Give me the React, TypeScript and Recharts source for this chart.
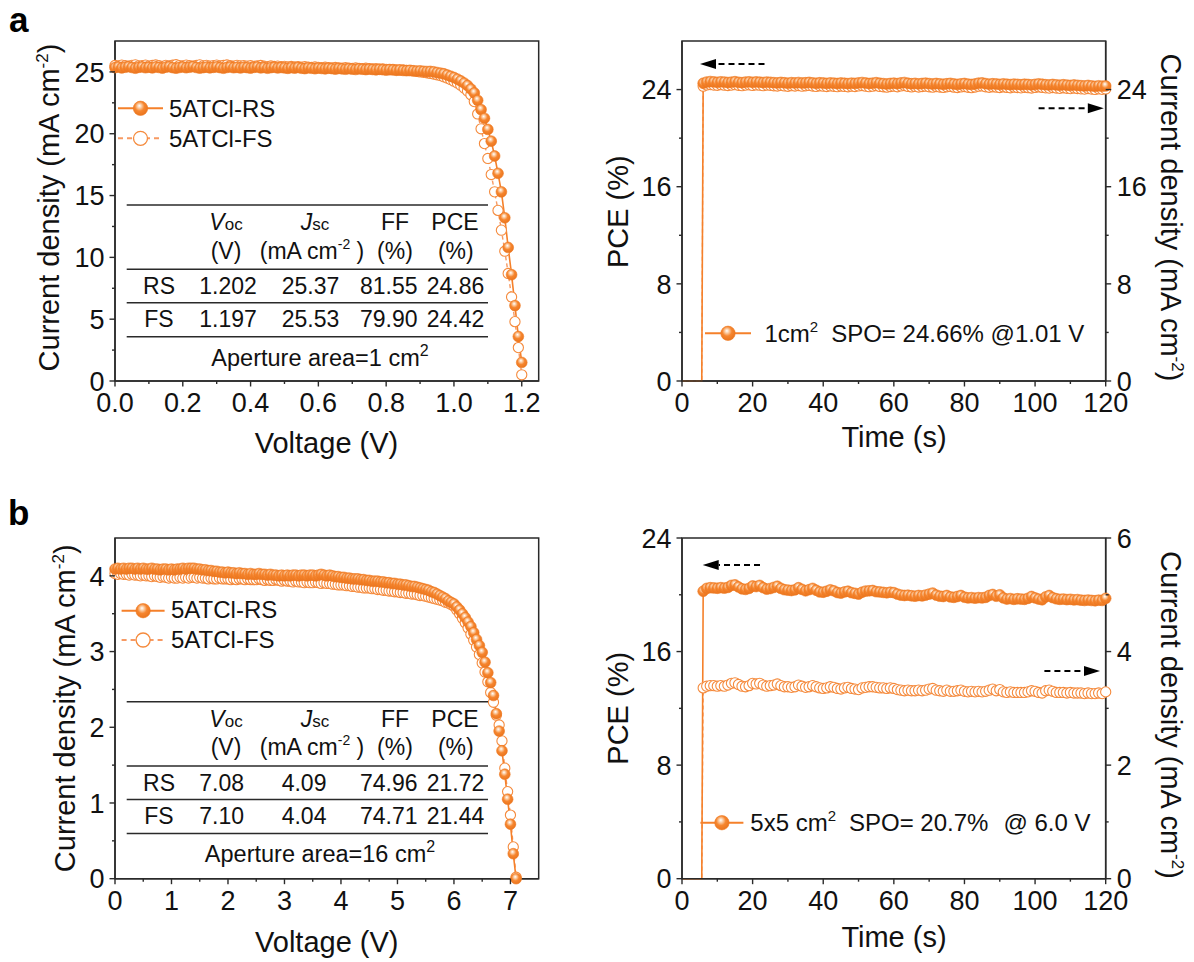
import React from 'react';
import { ComposedChart, Line, XAxis, YAxis, ReferenceArea } from 'recharts';

const FONT = '"Liberation Sans", Arial, Helvetica, sans-serif';
const ORANGE = '#F5802A';
const ORANGE_OPEN = '#F58A3C';
const ORANGE_DASH = '#F79A63';
const AXIS = '#2a2a2a';
const INK = '#111111';

// ---------- Panel a (1 cm2) : J-V ----------
const JV_A_VOLTAGE = [
  0, 0.01, 0.02, 0.03, 0.04, 0.05, 0.06, 0.07, 0.08, 0.09,
  0.1, 0.11, 0.12, 0.13, 0.14, 0.15, 0.16, 0.17, 0.18, 0.19,
  0.2, 0.21, 0.22, 0.23, 0.24, 0.25, 0.26, 0.27, 0.28, 0.29,
  0.3, 0.31, 0.32, 0.33, 0.34, 0.35, 0.36, 0.37, 0.38, 0.39,
  0.4, 0.41, 0.42, 0.43, 0.44, 0.45, 0.46, 0.47, 0.48, 0.49,
  0.5, 0.51, 0.52, 0.53, 0.54, 0.55, 0.56, 0.57, 0.58, 0.59,
  0.6, 0.61, 0.62, 0.63, 0.64, 0.65, 0.66, 0.67, 0.68, 0.69,
  0.7, 0.71, 0.72, 0.73, 0.74, 0.75, 0.76, 0.77, 0.78, 0.79,
  0.8, 0.81, 0.82, 0.83, 0.84, 0.85, 0.86, 0.87, 0.88, 0.89,
  0.9, 0.91, 0.92, 0.93, 0.94, 0.95, 0.96, 0.97, 0.98, 0.99,
  1, 1.01, 1.02, 1.03, 1.04, 1.05, 1.06, 1.07, 1.08, 1.09,
  1.1, 1.11, 1.12, 1.13, 1.14, 1.15, 1.16, 1.17, 1.18, 1.19,
  1.2,
];
const JV_A_RS = [
  25.35, 25.40, 25.32, 25.38, 25.42, 25.36, 25.30, 25.37, 25.41, 25.34,
  25.38, 25.33, 25.40, 25.36, 25.31, 25.39, 25.42, 25.35, 25.30, 25.36,
  25.40, 25.34, 25.38, 25.43, 25.36, 25.31, 25.35, 25.39, 25.33, 25.37,
  25.41, 25.35, 25.30, 25.36, 25.40, 25.34, 25.37, 25.32, 25.38, 25.35,
  25.31, 25.37, 25.40, 25.33, 25.36, 25.30, 25.35, 25.38, 25.32, 25.36,
  25.33, 25.29, 25.35, 25.31, 25.36, 25.30, 25.27, 25.33, 25.30, 25.26,
  25.31, 25.28, 25.25, 25.30, 25.27, 25.23, 25.28, 25.25, 25.22, 25.26,
  25.23, 25.20, 25.25, 25.22, 25.19, 25.23, 25.20, 25.17, 25.21, 25.18,
  25.15, 25.19, 25.16, 25.13, 25.16, 25.12, 25.10, 25.13, 25.09, 25.07,
  25.08, 25.05, 25.03, 25.04, 25.01, 24.95, 24.90, 24.85, 24.75, 24.65,
  24.55, 24.42, 24.28, 24.10, 23.90, 23.62, 23.30, 22.70, 21.95, 21.25,
  20.35, 19.40, 18.20, 16.80, 15.30, 13.20, 10.80, 8.60, 6.10, 3.60,
  1.50,
];
const JV_A_FS = [
  25.52, 25.48, 25.55, 25.50, 25.46, 25.53, 25.57, 25.49, 25.51, 25.55,
  25.47, 25.52, 25.56, 25.50, 25.45, 25.53, 25.49, 25.54, 25.58, 25.51,
  25.48, 25.55, 25.50, 25.46, 25.52, 25.57, 25.49, 25.53, 25.47, 25.51,
  25.55, 25.48, 25.52, 25.56, 25.50, 25.46, 25.53, 25.49, 25.51, 25.47,
  25.50, 25.45, 25.49, 25.52, 25.46, 25.43, 25.48, 25.44, 25.47, 25.42,
  25.45, 25.41, 25.44, 25.40, 25.43, 25.38, 25.42, 25.39, 25.36, 25.40,
  25.37, 25.34, 25.38, 25.35, 25.32, 25.36, 25.33, 25.30, 25.34, 25.31,
  25.28, 25.32, 25.29, 25.26, 25.30, 25.27, 25.24, 25.27, 25.23, 25.25,
  25.21, 25.18, 25.21, 25.17, 25.15, 25.17, 25.13, 25.10, 25.08, 25.05,
  25.00, 24.97, 24.93, 24.88, 24.83, 24.77, 24.70, 24.60, 24.50, 24.38,
  24.25, 24.10, 23.92, 23.70, 23.45, 23.15, 22.60, 21.60, 20.40, 19.20,
  18.00, 16.70, 15.30, 13.80, 12.20, 10.50, 8.70, 6.80, 4.80, 2.70,
  0.50,
];

// ---------- Panel b (16 cm2 module) : J-V ----------
const JV_B_VOLTAGE = [
  0, 0.05, 0.1, 0.15, 0.2, 0.25, 0.3, 0.35, 0.4, 0.45,
  0.5, 0.55, 0.6, 0.65, 0.7, 0.75, 0.8, 0.85, 0.9, 0.95,
  1, 1.05, 1.1, 1.15, 1.2, 1.25, 1.3, 1.35, 1.4, 1.45,
  1.5, 1.55, 1.6, 1.65, 1.7, 1.75, 1.8, 1.85, 1.9, 1.95,
  2, 2.05, 2.1, 2.15, 2.2, 2.25, 2.3, 2.35, 2.4, 2.45,
  2.5, 2.55, 2.6, 2.65, 2.7, 2.75, 2.8, 2.85, 2.9, 2.95,
  3, 3.05, 3.1, 3.15, 3.2, 3.25, 3.3, 3.35, 3.4, 3.45,
  3.5, 3.55, 3.6, 3.65, 3.7, 3.75, 3.8, 3.85, 3.9, 3.95,
  4, 4.05, 4.1, 4.15, 4.2, 4.25, 4.3, 4.35, 4.4, 4.45,
  4.5, 4.55, 4.6, 4.65, 4.7, 4.75, 4.8, 4.85, 4.9, 4.95,
  5, 5.05, 5.1, 5.15, 5.2, 5.25, 5.3, 5.35, 5.4, 5.45,
  5.5, 5.55, 5.6, 5.65, 5.7, 5.75, 5.8, 5.85, 5.9, 5.95,
  6, 6.05, 6.1, 6.15, 6.2, 6.25, 6.3, 6.35, 6.4, 6.45,
  6.5, 6.55, 6.6, 6.65, 6.7, 6.75, 6.8, 6.85, 6.9, 6.95,
  7, 7.05, 7.1,
];
const JV_B_RS = [
  4.09, 4.10, 4.09, 4.10, 4.09, 4.10, 4.10, 4.09, 4.10, 4.09,
  4.10, 4.09, 4.09, 4.10, 4.09, 4.09, 4.08, 4.09, 4.09, 4.08,
  4.09, 4.08, 4.09, 4.09, 4.10, 4.09, 4.10, 4.10, 4.10, 4.09,
  4.09, 4.08, 4.08, 4.07, 4.07, 4.06, 4.06, 4.05, 4.05, 4.04,
  4.05, 4.04, 4.04, 4.03, 4.04, 4.03, 4.03, 4.02, 4.03, 4.02,
  4.02, 4.03, 4.02, 4.02, 4.01, 4.02, 4.01, 4.01, 4.00, 4.01,
  4.00, 4.01, 4.00, 4.01, 4.01, 4.00, 4.01, 4.01, 4.00, 4.01,
  4.01, 4.00, 4.01, 4.02, 4.01, 4.00, 4.01, 4.00, 3.99, 3.99,
  3.98, 3.98, 3.97, 3.97, 3.96, 3.96, 3.96, 3.95, 3.95, 3.94,
  3.94, 3.93, 3.93, 3.93, 3.92, 3.92, 3.91, 3.91, 3.90, 3.90,
  3.89, 3.89, 3.88, 3.88, 3.87, 3.86, 3.86, 3.85, 3.84, 3.83,
  3.82, 3.81, 3.79, 3.78, 3.76, 3.74, 3.72, 3.70, 3.67, 3.65,
  3.63, 3.59, 3.55, 3.50, 3.45, 3.39, 3.33, 3.25, 3.16, 3.08,
  2.99, 2.86, 2.72, 2.59, 2.42, 2.18, 1.95, 1.69, 1.38, 1.05,
  0.72, 0.33, 0.00,
];
const JV_B_FS = [
  4.03, 4.02, 4.03, 4.02, 4.02, 4.01, 4.02, 4.01, 4.01, 4.00,
  4.01, 4.00, 4.00, 3.99, 4.00, 3.99, 3.98, 3.99, 3.98, 3.97,
  3.98, 3.97, 3.97, 3.98, 3.97, 3.98, 3.97, 3.98, 3.98, 3.97,
  3.98, 3.97, 3.97, 3.96, 3.97, 3.96, 3.96, 3.97, 3.96, 3.96,
  3.96, 3.95, 3.96, 3.95, 3.96, 3.96, 3.95, 3.96, 3.95, 3.95,
  3.95, 3.96, 3.95, 3.94, 3.95, 3.94, 3.94, 3.95, 3.94, 3.93,
  3.94, 3.93, 3.93, 3.92, 3.93, 3.92, 3.92, 3.91, 3.92, 3.91,
  3.91, 3.92, 3.91, 3.90, 3.91, 3.90, 3.90, 3.89, 3.89, 3.88,
  3.88, 3.88, 3.87, 3.87, 3.86, 3.86, 3.85, 3.85, 3.84, 3.84,
  3.84, 3.83, 3.83, 3.82, 3.82, 3.81, 3.81, 3.80, 3.80, 3.79,
  3.79, 3.78, 3.78, 3.77, 3.77, 3.76, 3.76, 3.75, 3.74, 3.74,
  3.73, 3.72, 3.71, 3.70, 3.69, 3.68, 3.67, 3.65, 3.64, 3.62,
  3.60, 3.55, 3.50, 3.44, 3.38, 3.31, 3.23, 3.15, 3.06, 2.96,
  2.85, 2.73, 2.60, 2.46, 2.33, 2.16, 2.03, 1.82, 1.46, 1.15,
  0.84, 0.42, 0.02,
];

// ---------- Stabilised power output (time axis shared) ----------
const SPO_TIME = [
  0, 1, 2, 3, 4, 5, 5.6,
  6, 7, 8, 9, 10, 11, 12, 13, 14, 15,
  16, 17, 18, 19, 20, 21, 22, 23, 24, 25,
  26, 27, 28, 29, 30, 31, 32, 33, 34, 35,
  36, 37, 38, 39, 40, 41, 42, 43, 44, 45,
  46, 47, 48, 49, 50, 51, 52, 53, 54, 55,
  56, 57, 58, 59, 60, 61, 62, 63, 64, 65,
  66, 67, 68, 69, 70, 71, 72, 73, 74, 75,
  76, 77, 78, 79, 80, 81, 82, 83, 84, 85,
  86, 87, 88, 89, 90, 91, 92, 93, 94, 95,
  96, 97, 98, 99, 100, 101, 102, 103, 104, 105,
  106, 107, 108, 109, 110, 111, 112, 113, 114, 115,
  116, 117, 118, 119, 120,
];
const SPO_A_PCE = [
  0, 0, 0, 0, 0, 0, 0,
  24.52, 24.62, 24.66, 24.63, 24.60, 24.64, 24.62, 24.58, 24.61, 24.65,
  24.60, 24.57, 24.62, 24.64, 24.60, 24.63, 24.61, 24.58, 24.62, 24.60,
  24.57, 24.55, 24.59, 24.56, 24.53, 24.57, 24.55, 24.58, 24.54, 24.56,
  24.59, 24.55, 24.52, 24.56, 24.54, 24.51, 24.55, 24.53, 24.50, 24.54,
  24.52, 24.49, 24.53, 24.51, 24.55, 24.58, 24.54, 24.50, 24.53, 24.57,
  24.52, 24.49, 24.46, 24.50, 24.53, 24.49, 24.55, 24.58, 24.52, 24.48,
  24.51, 24.47, 24.50, 24.53, 24.49, 24.46, 24.50, 24.47, 24.44, 24.48,
  24.51, 24.46, 24.43, 24.47, 24.50, 24.45, 24.42, 24.46, 24.53, 24.55,
  24.49, 24.45, 24.48, 24.46, 24.43, 24.47, 24.44, 24.41, 24.45, 24.43,
  24.40, 24.44, 24.42, 24.39, 24.43, 24.47, 24.44, 24.40, 24.38, 24.42,
  24.39, 24.36, 24.40, 24.37, 24.34, 24.38, 24.35, 24.32, 24.30, 24.34,
  24.30, 24.27, 24.31, 24.28, 24.30,
];
const SPO_A_J = [
  0, 0, 0, 0, 0, 0, 0,
  24.28, 24.38, 24.41, 24.37, 24.35, 24.40, 24.36, 24.33, 24.37, 24.40,
  24.35, 24.32, 24.37, 24.39, 24.34, 24.38, 24.36, 24.32, 24.37, 24.35,
  24.31, 24.29, 24.34, 24.30, 24.27, 24.32, 24.29, 24.33, 24.28, 24.31,
  24.34, 24.29, 24.26, 24.31, 24.28, 24.25, 24.30, 24.27, 24.24, 24.29,
  24.26, 24.23, 24.28, 24.25, 24.30, 24.33, 24.28, 24.24, 24.28, 24.32,
  24.26, 24.23, 24.20, 24.25, 24.28, 24.23, 24.30, 24.33, 24.26, 24.22,
  24.26, 24.21, 24.25, 24.28, 24.23, 24.20, 24.25, 24.21, 24.18, 24.23,
  24.26, 24.20, 24.17, 24.22, 24.25, 24.19, 24.16, 24.21, 24.28, 24.30,
  24.23, 24.19, 24.23, 24.20, 24.17, 24.22, 24.18, 24.15, 24.20, 24.17,
  24.14, 24.19, 24.16, 24.13, 24.18, 24.22, 24.18, 24.14, 24.12, 24.17,
  24.13, 24.10, 24.15, 24.11, 24.08, 24.13, 24.09, 24.06, 24.04, 24.09,
  24.04, 24.01, 24.06, 24.02, 24.05,
];
const SPO_B_PCE = [
  0, 0, 0, 0, 0, 0, 0,
  20.25, 20.45, 20.50, 20.48, 20.46, 20.50, 20.47, 20.52, 20.66, 20.70,
  20.55, 20.42, 20.38, 20.45, 20.62, 20.58, 20.66, 20.50, 20.40, 20.44,
  20.52, 20.60, 20.45, 20.36, 20.33, 20.30, 20.35, 20.50, 20.38, 20.28,
  20.36, 20.45, 20.32, 20.20, 20.18, 20.25, 20.35, 20.28, 20.16, 20.12,
  20.20, 20.25, 20.15, 20.10, 20.05, 20.18, 20.26, 20.28, 20.30, 20.22,
  20.20, 20.17, 20.14, 20.18, 20.15, 20.05, 19.98, 19.95, 19.97, 19.93,
  19.90, 19.95, 19.92, 19.98, 20.05, 20.12, 19.98, 19.90, 19.88, 19.95,
  19.85, 19.82, 19.88, 19.95, 19.83, 19.78, 19.80, 19.76, 19.80, 19.78,
  19.82, 19.95, 20.02, 19.90, 20.00, 19.78, 19.70, 19.73, 19.68, 19.72,
  19.70, 19.68, 19.75, 19.88, 19.78, 19.70, 19.65, 19.85, 19.95, 19.80,
  19.72, 19.68, 19.70, 19.66, 19.68, 19.64, 19.66, 19.62, 19.60, 19.63,
  19.60, 19.58, 19.62, 19.60, 19.75,
];
const SPO_B_J = [
  0, 0, 0, 0, 0, 0, 0,
  3.36, 3.39, 3.40, 3.40, 3.39, 3.40, 3.39, 3.41, 3.44, 3.45,
  3.42, 3.39, 3.38, 3.40, 3.44, 3.43, 3.44, 3.41, 3.39, 3.40,
  3.41, 3.43, 3.40, 3.38, 3.38, 3.37, 3.38, 3.41, 3.39, 3.37,
  3.38, 3.40, 3.38, 3.36, 3.35, 3.36, 3.38, 3.37, 3.35, 3.34,
  3.36, 3.37, 3.35, 3.34, 3.33, 3.36, 3.37, 3.38, 3.38, 3.37,
  3.36, 3.36, 3.35, 3.36, 3.35, 3.33, 3.32, 3.31, 3.32, 3.31,
  3.31, 3.32, 3.31, 3.32, 3.34, 3.35, 3.32, 3.31, 3.30, 3.32,
  3.30, 3.30, 3.31, 3.32, 3.30, 3.29, 3.30, 3.29, 3.30, 3.29,
  3.30, 3.32, 3.34, 3.31, 3.33, 3.29, 3.28, 3.29, 3.28, 3.28,
  3.28, 3.28, 3.29, 3.31, 3.30, 3.28, 3.27, 3.31, 3.32, 3.30,
  3.28, 3.28, 3.28, 3.27, 3.28, 3.27, 3.27, 3.27, 3.26, 3.27,
  3.26, 3.26, 3.27, 3.26, 3.29,
];

// ---------- ticks ----------
const JV_A_X_MAJOR = [0, 0.2, 0.4, 0.6, 0.8, 1.0, 1.2];
const JV_A_X_MINOR = [0.1, 0.3, 0.5, 0.7, 0.9, 1.1];
const JV_A_Y_MAJOR = [0, 5, 10, 15, 20, 25];
const JV_A_Y_MINOR = [2.5, 7.5, 12.5, 17.5, 22.5];
const JV_B_X_MAJOR = [0, 1, 2, 3, 4, 5, 6, 7];
const JV_B_X_MINOR = [0.5, 1.5, 2.5, 3.5, 4.5, 5.5, 6.5];
const JV_B_Y_MAJOR = [0, 1, 2, 3, 4];
const JV_B_Y_MINOR = [0.5, 1.5, 2.5, 3.5];
const SPO_X_MAJOR = [0, 20, 40, 60, 80, 100, 120];
const SPO_X_MINOR = [10, 30, 50, 70, 90, 110];
const SPO_PCE_MAJOR = [0, 8, 16, 24];
const SPO_PCE_MINOR = [4, 12, 20];
const SPO_B_J_MAJOR = [0, 2, 4, 6];
const SPO_B_J_MINOR = [1, 3, 5];

// ---------- table / legend text ----------
const TABLE_A_ROWS = [
  ['RS', '1.202', '25.37', '81.55', '24.86'],
  ['FS', '1.197', '25.53', '79.90', '24.42'],
];
const TABLE_B_ROWS = [
  ['RS', '7.08', '4.09', '74.96', '21.72'],
  ['FS', '7.10', '4.04', '74.71', '21.44'],
];

const jvAData = JV_A_VOLTAGE.map((v, i) => ({ v, rs: JV_A_RS[i], fs: JV_A_FS[i] }));
const jvBData = JV_B_VOLTAGE.map((v, i) => ({ v, rs: JV_B_RS[i], fs: JV_B_FS[i] }));
const spoAData = SPO_TIME.map((t, i) => ({ t, pce: SPO_A_PCE[i], j: SPO_A_J[i] }));
const spoBData = SPO_TIME.map((t, i) => ({ t, pce: SPO_B_PCE[i], j: SPO_B_J[i] }));

// ---------- helpers ----------
type Side = 'bottom' | 'left' | 'right';
function makeTick(side: Side, majors: number[], fmt: (v: number) => string) {
  return (p: any) => {
    const v = Number(p?.payload?.value);
    const x = Number(p.x);
    const y = Number(p.y);
    const major = majors.some((m) => Math.abs(m - v) < 1e-6);
    const len = major ? 5.5 : 3;
    const ls = { stroke: AXIS, strokeWidth: 1.4 };
    const ts = { fontSize: 27, fontFamily: FONT, fill: INK } as any;
    if (side === 'bottom') {
      return (
        <g>
          <line x1={x} y1={y} x2={x} y2={y + len} {...ls} />
          {major && <text x={x} y={y + 31.5} textAnchor="middle" {...ts}>{fmt(v)}</text>}
        </g>
      );
    }
    if (side === 'left') {
      return (
        <g>
          <line x1={x} y1={y} x2={x - len} y2={y} {...ls} />
          {major && <text x={x - 10.5} y={y + 9.7} textAnchor="end" {...ts}>{fmt(v)}</text>}
        </g>
      );
    }
    return (
      <g>
        <line x1={x} y1={y} x2={x + len} y2={y} {...ls} />
        {major && <text x={x + 11} y={y + 9.7} textAnchor="start" {...ts}>{fmt(v)}</text>}
      </g>
    );
  };
}

const ballDot = (hideZero: boolean) => (p: any) => {
  const { cx, cy, index, value } = p;
  if (cx == null || cy == null || (hideZero && value === 0)) return <g key={`b${index}`} />;
  return <circle key={`b${index}`} cx={cx} cy={cy} r={5.4} fill="url(#ballGrad)" stroke="#EF7B24" strokeWidth={0.6} />;
};
const openDot = (hideZero: boolean) => (p: any) => {
  const { cx, cy, index, value } = p;
  if (cx == null || cy == null || (hideZero && value === 0)) return <g key={`o${index}`} />;
  return <circle key={`o${index}`} cx={cx} cy={cy} r={5.1} fill="#ffffff" stroke={ORANGE_OPEN} strokeWidth={1.1} />;
};

type Plot = { x: number; y: number; w: number; h: number };
const PAD = { l: 100, r: 100, t: 40, b: 90 };
const YW = 60;
const XH = 40;

function PanelChart(props: {
  plot: Plot;
  data: any[];
  xKey: string;
  xDomain: [number, number];
  xTicks: number[];
  xMajor: number[];
  xFmt: (v: number) => string;
  yDomain: [number, number];
  yTicks: number[];
  yMajor: number[];
  right?: { domain: [number, number]; ticks: number[]; major: number[] };
  children: React.ReactNode;
}) {
  const { plot } = props;
  const width = plot.w + PAD.l + PAD.r;
  const height = plot.h + PAD.t + PAD.b;
  const rightW = props.right ? YW : 0;
  return (
    <div style={{ position: 'absolute', left: plot.x - PAD.l, top: plot.y - PAD.t, width, height }}>
      <ComposedChart
        width={width}
        height={height}
        data={props.data}
        margin={{ top: PAD.t, left: PAD.l - YW, right: PAD.r - rightW, bottom: PAD.b - XH }}
      >
        <XAxis
          dataKey={props.xKey}
          type="number"
          domain={props.xDomain}
          ticks={props.xTicks}
          interval={0}
          height={XH}
          tickSize={0}
          tickMargin={0}
          tickLine={false}
          axisLine={{ stroke: AXIS, strokeWidth: 1.5 }}
          tick={makeTick('bottom', props.xMajor, props.xFmt)}
        />
        <YAxis
          yAxisId="left"
          type="number"
          domain={props.yDomain}
          ticks={props.yTicks}
          interval={0}
          width={YW}
          tickSize={0}
          tickMargin={0}
          tickLine={false}
          axisLine={{ stroke: AXIS, strokeWidth: 1.5 }}
          tick={makeTick('left', props.yMajor, (v) => String(v))}
        />
        {props.right && (
          <YAxis
            yAxisId="right"
            orientation="right"
            type="number"
            domain={props.right.domain}
            ticks={props.right.ticks}
            interval={0}
            width={YW}
            tickSize={0}
            tickMargin={0}
            tickLine={false}
            axisLine={{ stroke: AXIS, strokeWidth: 1.5 }}
            tick={makeTick('right', props.right.major, (v) => String(v))}
          />
        )}
        <ReferenceArea
          yAxisId="left"
          x1={props.xDomain[0]}
          x2={props.xDomain[1]}
          y1={props.yDomain[0]}
          y2={props.yDomain[1]}
          fill="none"
          fillOpacity={0}
          stroke={AXIS}
          strokeWidth={1.5}
          ifOverflow="visible"
        />
        {props.children}
      </ComposedChart>
    </div>
  );
}

function Arrow({ x1, x2, y }: { x1: number; x2: number; y: number }) {
  // x2 is the tip
  const dir = x2 > x1 ? 1 : -1;
  const base = x2 - dir * 16;
  return (
    <g>
      <line x1={x1} y1={y} x2={base} y2={y} stroke="#000" strokeWidth={2} strokeDasharray="6 4" />
      <polygon points={`${x2},${y} ${base},${y - 5} ${base},${y + 5}`} fill="#000" />
    </g>
  );
}

function Table({ top, rows, area }: { top: number; rows: string[][]; area: string }) {
  const fs = 23;
  const t = { fontFamily: FONT, fontSize: fs, fill: INK } as any;
  const lx1 = 126.7;
  const lx2 = 488;
  const dataX = [199.3, 281.7, 360, 426.7];
  return (
    <g>
      {[0, 64.3, 97.7, 131.7].map((d, i) => (
        <line key={i} x1={lx1} x2={lx2} y1={top + d} y2={top + d} stroke={AXIS} strokeWidth={1.5} />
      ))}
      <text x={226} y={top + 25} textAnchor="middle" {...t}>
        <tspan fontStyle="italic">V</tspan>
        <tspan fontSize={17}>oc</tspan>
      </text>
      <text x={315} y={top + 25} textAnchor="middle" {...t}>
        <tspan fontStyle="italic">J</tspan>
        <tspan fontSize={17}>sc</tspan>
      </text>
      <text x={395} y={top + 25} textAnchor="middle" {...t}>FF</text>
      <text x={455} y={top + 25} textAnchor="middle" {...t}>PCE</text>
      <text x={226} y={top + 53.5} textAnchor="middle" {...t}>(V)</text>
      <text x={312} y={top + 53.5} textAnchor="middle" {...t}>
        (mA cm<tspan fontSize={14} dy={-10}>-2</tspan>
        <tspan dy={10}> )</tspan>
      </text>
      <text x={395} y={top + 53.5} textAnchor="middle" {...t}>(%)</text>
      <text x={455.8} y={top + 53.5} textAnchor="middle" {...t}>(%)</text>
      {rows.map((r, i) => (
        <g key={i}>
          <text x={159} y={top + 89 + i * 33.3} textAnchor="middle" {...t}>{r[0]}</text>
          {r.slice(1).map((c, j) => (
            <text key={j} x={dataX[j]} y={top + 89 + i * 33.3} textAnchor="start" {...t}>{c}</text>
          ))}
        </g>
      ))}
      <text x={320} y={top + 160.5} textAnchor="middle" {...t} fontSize={23.5}>
        {area}<tspan fontSize={16} dy={-10}>2</tspan>
      </text>
    </g>
  );
}

function LegendRow({ x1, x2, y, filled, tx, ty, children }: any) {
  const cx = (x1 + x2) / 2;
  return (
    <g>
      <line x1={x1} x2={x2} y1={y} y2={y} stroke={filled ? ORANGE : ORANGE_DASH} strokeWidth={2} strokeDasharray={filled ? undefined : '5 4'} />
      {filled ? (
        <circle cx={cx} cy={y} r={7.2} fill="url(#ballGrad)" stroke="#EF7B24" strokeWidth={0.6} />
      ) : (
        <circle cx={cx} cy={y} r={7} fill="#fff" stroke={ORANGE_OPEN} strokeWidth={1.3} />
      )}
      <text x={tx} y={ty} fontFamily={FONT} fontSize={24} fill={INK}>{children}</text>
    </g>
  );
}

const PLOT_A_JV: Plot = { x: 114.8, y: 41, w: 423.7, h: 340 };
const PLOT_A_SPO: Plot = { x: 682, y: 41, w: 423.7, h: 340 };
const PLOT_B_JV: Plot = { x: 114.8, y: 538.3, w: 423.7, h: 340.7 };
const PLOT_B_SPO: Plot = { x: 682, y: 538.3, w: 423.7, h: 340.7 };

export default function App() {
  const title = { fontFamily: FONT, fontSize: 29, fill: INK } as any;
  return (
    <div style={{ position: 'absolute', left: 0, top: 0, width: 1194, height: 962, background: '#fff', overflow: 'hidden' }}>
      <svg width={0} height={0} style={{ position: 'absolute' }}>
        <defs>
          <radialGradient id="ballGrad" cx="0.45" cy="0.4" r="0.6" fx="0.42" fy="0.32">
            <stop offset="0" stopColor="#ffffff" />
            <stop offset="0.22" stopColor="#fcd2ad" />
            <stop offset="0.55" stopColor="#f6862f" />
            <stop offset="1" stopColor="#ea741d" />
          </radialGradient>
        </defs>
      </svg>

      {/* a: J-V */}
      <PanelChart
        plot={PLOT_A_JV}
        data={jvAData}
        xKey="v"
        xDomain={[0, 1.25]}
        xTicks={[...JV_A_X_MAJOR, ...JV_A_X_MINOR].sort((a, b) => a - b)}
        xMajor={JV_A_X_MAJOR}
        xFmt={(v) => v.toFixed(1)}
        yDomain={[0, 27.5]}
        yTicks={[...JV_A_Y_MAJOR, ...JV_A_Y_MINOR].sort((a, b) => a - b)}
        yMajor={JV_A_Y_MAJOR}
      >
        <Line yAxisId="left" dataKey="fs" type="linear" stroke={ORANGE_DASH} strokeWidth={1.4} strokeDasharray="4 3" dot={openDot(false)} activeDot={false} isAnimationActive={false} />
        <Line yAxisId="left" dataKey="rs" type="linear" stroke={ORANGE} strokeWidth={1.6} dot={ballDot(false)} activeDot={false} isAnimationActive={false} />
      </PanelChart>

      {/* a: SPO */}
      <PanelChart
        plot={PLOT_A_SPO}
        data={spoAData}
        xKey="t"
        xDomain={[0, 120]}
        xTicks={[...SPO_X_MAJOR, ...SPO_X_MINOR].sort((a, b) => a - b)}
        xMajor={SPO_X_MAJOR}
        xFmt={(v) => String(v)}
        yDomain={[0, 28]}
        yTicks={[...SPO_PCE_MAJOR, ...SPO_PCE_MINOR].sort((a, b) => a - b)}
        yMajor={SPO_PCE_MAJOR}
        right={{ domain: [0, 28], ticks: [...SPO_PCE_MAJOR, ...SPO_PCE_MINOR].sort((a, b) => a - b), major: SPO_PCE_MAJOR }}
      >
        <Line yAxisId="right" dataKey="j" type="linear" stroke={ORANGE_DASH} strokeWidth={1.3} strokeDasharray="4 3" dot={openDot(true)} activeDot={false} isAnimationActive={false} />
        <Line yAxisId="left" dataKey="pce" type="linear" stroke={ORANGE} strokeWidth={1.6} dot={ballDot(true)} activeDot={false} isAnimationActive={false} />
      </PanelChart>

      {/* b: J-V */}
      <PanelChart
        plot={PLOT_B_JV}
        data={jvBData}
        xKey="v"
        xDomain={[0, 7.5]}
        xTicks={[...JV_B_X_MAJOR, ...JV_B_X_MINOR].sort((a, b) => a - b)}
        xMajor={JV_B_X_MAJOR}
        xFmt={(v) => String(v)}
        yDomain={[0, 4.5]}
        yTicks={[...JV_B_Y_MAJOR, ...JV_B_Y_MINOR].sort((a, b) => a - b)}
        yMajor={JV_B_Y_MAJOR}
      >
        <Line yAxisId="left" dataKey="fs" type="linear" stroke={ORANGE_DASH} strokeWidth={1.4} strokeDasharray="4 3" dot={openDot(false)} activeDot={false} isAnimationActive={false} />
        <Line yAxisId="left" dataKey="rs" type="linear" stroke={ORANGE} strokeWidth={1.6} dot={ballDot(false)} activeDot={false} isAnimationActive={false} />
      </PanelChart>

      {/* b: SPO */}
      <PanelChart
        plot={PLOT_B_SPO}
        data={spoBData}
        xKey="t"
        xDomain={[0, 120]}
        xTicks={[...SPO_X_MAJOR, ...SPO_X_MINOR].sort((a, b) => a - b)}
        xMajor={SPO_X_MAJOR}
        xFmt={(v) => String(v)}
        yDomain={[0, 24]}
        yTicks={[...SPO_PCE_MAJOR, ...SPO_PCE_MINOR].sort((a, b) => a - b)}
        yMajor={SPO_PCE_MAJOR}
        right={{ domain: [0, 6], ticks: [...SPO_B_J_MAJOR, ...SPO_B_J_MINOR].sort((a, b) => a - b), major: SPO_B_J_MAJOR }}
      >
        <Line yAxisId="right" dataKey="j" type="linear" stroke={ORANGE_DASH} strokeWidth={1.3} strokeDasharray="4 3" dot={openDot(true)} activeDot={false} isAnimationActive={false} />
        <Line yAxisId="left" dataKey="pce" type="linear" stroke={ORANGE} strokeWidth={1.6} dot={ballDot(true)} activeDot={false} isAnimationActive={false} />
      </PanelChart>

      {/* annotations */}
      <svg width={1194} height={962} style={{ position: 'absolute', left: 0, top: 0, pointerEvents: 'none' }}>
        <text x={9} y={32} fontFamily={FONT} fontWeight="bold" fontSize={35} fill="#000">a</text>
        <text x={8} y={525} fontFamily={FONT} fontWeight="bold" fontSize={35} fill="#000">b</text>

        {/* panel a left */}
        <text transform="translate(59,207.5) rotate(-90)" textAnchor="middle" {...title}>
          Current density (mA cm<tspan fontSize={17} dy={-11}>-2</tspan><tspan dy={11}>)</tspan>
        </text>
        <text x={326.5} y={453} textAnchor="middle" {...title}>Voltage (V)</text>
        <LegendRow x1={118} x2={163} y={108.3} filled tx={169} ty={116.5}>5ATCl-RS</LegendRow>
        <LegendRow x1={118} x2={163} y={138.3} filled={false} tx={169} ty={146.5}>5ATCl-FS</LegendRow>
        <Table top={205} rows={TABLE_A_ROWS} area="Aperture area=1 cm" />

        {/* panel a right */}
        <text transform="translate(628.3,211.7) rotate(-90)" textAnchor="middle" {...title}>PCE (%)</text>
        <text transform="translate(1161,217.5) rotate(90)" textAnchor="middle" {...title}>
          Current density (mA cm<tspan fontSize={17} dy={-11}>-2</tspan><tspan dy={11}>)</tspan>
        </text>
        <text x={894} y={446.7} textAnchor="middle" {...title}>Time (s)</text>
        <Arrow x1={764.5} x2={700} y={64} />
        <Arrow x1={1038.6} x2={1103.8} y={108.3} />
        <LegendRow x1={705} x2={751} y={333.3} filled tx={764.5} ty={341.7}>
          1cm<tspan fontSize={15} dy={-10}>2</tspan>
          <tspan dy={10} dx={13}>SPO= 24.66% @1.01 V</tspan>
        </LegendRow>

        {/* panel b left */}
        <text transform="translate(75,708.3) rotate(-90)" textAnchor="middle" {...title}>
          Current density (mA cm<tspan fontSize={17} dy={-11}>-2</tspan><tspan dy={11}>)</tspan>
        </text>
        <text x={326.8} y={951.7} textAnchor="middle" {...title}>Voltage (V)</text>
        <LegendRow x1={121.6} x2={164.6} y={610.7} filled tx={171} ty={618}>5ATCl-RS</LegendRow>
        <LegendRow x1={121.6} x2={164.6} y={640} filled={false} tx={171} ty={647.5}>5ATCl-FS</LegendRow>
        <Table top={701.7} rows={TABLE_B_ROWS} area="Aperture area=16 cm" />

        {/* panel b right */}
        <text transform="translate(628.3,708.3) rotate(-90)" textAnchor="middle" {...title}>PCE (%)</text>
        <text transform="translate(1161,715) rotate(90)" textAnchor="middle" {...title}>
          Current density (mA cm<tspan fontSize={17} dy={-11}>-2</tspan><tspan dy={11}>)</tspan>
        </text>
        <text x={894} y={946.7} textAnchor="middle" {...title}>Time (s)</text>
        <Arrow x1={760} x2={702.7} y={565} />
        <Arrow x1={1044.4} x2={1100} y={671} />
        <LegendRow x1={700.4} x2={743.4} y={822.7} filled tx={750.3} ty={830.7}>
          5x5 cm<tspan fontSize={15} dy={-10}>2</tspan>
          <tspan dy={10} dx={13}>SPO= 20.7%</tspan>
          <tspan dx={15}>@ 6.0 V</tspan>
        </LegendRow>
      </svg>
    </div>
  );
}
